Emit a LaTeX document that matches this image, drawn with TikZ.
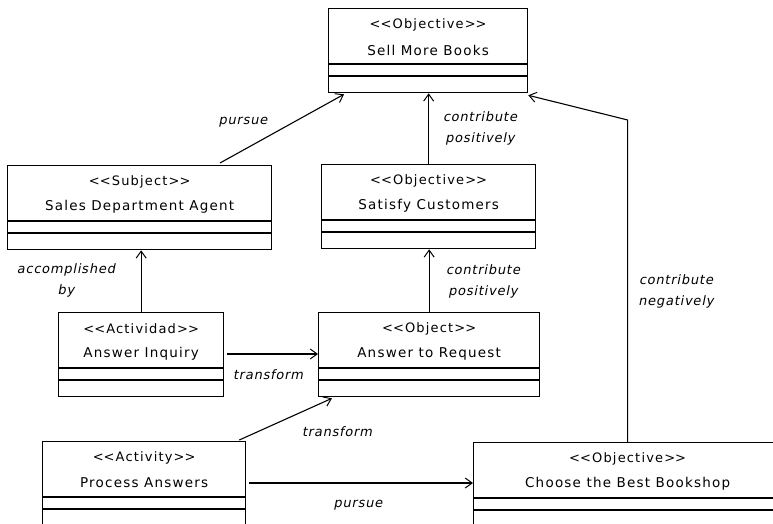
\documentclass[tikz,border=0pt]{standalone}
\usepackage{fontspec}
\usetikzlibrary{arrows.meta,calc}
\newfontfamily\umlfont{DejaVu Sans}[LetterSpace=9]
\newfontfamily\umlitfont{DejaVu Sans}[FakeSlant=0.2,LetterSpace=6]

\tikzset{
  classbox/.style={draw=black, line width=1.3pt, fill=white, rectangle,
    inner sep=0pt, minimum height=84pt, anchor=north west},
  boxline/.style={line width=1.3pt},
  stereo/.style={font=\umlfont\fontsize{13}{15}\selectfont, inner sep=0pt},
  cname/.style={font=\umlfont\fontsize{13.5}{15}\selectfont, inner sep=0pt},
  rel/.style={line width=1.1pt, -{Straight Barb[length=7pt,width=10pt,line width=1pt]}},
  rlabel/.style={font=\umlitfont\fontsize{13}{21}\selectfont, inner sep=0pt, align=center}
}

% class box: name, x, y, width, stereotype, title
\newcommand{\umlclass}[6]{%
  \node[classbox, minimum width=#4pt] (#1) at (#2,#3) {};
  \node[stereo] (#1-st) at ($(#1.north)+(0,17)$) {<\kern0pt<#5>\kern0pt>};
  \node[cname] (#1-nm) at ($(#1.north)+(0,42)$) {#6};
  \draw[boxline] ($(#1.north west)+(0,56)$) -- ($(#1.north east)+(0,56)$);
  \draw[boxline] ($(#1.north west)+(0,68)$) -- ($(#1.north east)+(0,68)$);
}

\begin{document}
\begin{tikzpicture}[x=1pt, y=-1pt]
  \useasboundingbox (0,0) rectangle (773,524);
  \clip (0,0) rectangle (773,524);
  \fill[white] (0,0) rectangle (773,524);

  \umlclass{smb}{328}{8}{199}{Objective}{Sell More Books}
  \umlclass{sda}{7}{165}{264}{Subject}{Sales Department Agent}
  \umlclass{sc}{321}{164}{214}{Objective}{Satisfy Customers}
  \umlclass{ai}{58}{312}{165}{Actividad}{Answer Inquiry}
  \umlclass{atr}{318}{312}{221}{Object}{Answer to Request}
  \umlclass{pa}{42}{441}{203}{Activity}{Process Answers}
  \umlclass{cbb}{473}{442}{308}{Objective}{Choose the Best Bookshop}

  \coordinate (bend) at ($(cbb.north)+(0,-322)$);

  % relationships
  \draw[rel] ($(sda.north west)+(213,-2)$) -- ($(smb.south west)+(16,1)$);
  \draw[rel] (sc.north) -- (sc.north |- smb.south);
  \draw[rel] (atr.north) -- (atr.north |- sc.south);
  \draw[rel] (ai.north) -- (ai.north |- sda.south);
  \draw[rel] ($(ai.north east |- ai-nm)+(3,0)$) -- (atr.west |- ai-nm);
  \draw[rel] ($(pa.north east)+(-7,-1)$) -- ($(atr.south west)+(14,1)$);
  \draw[rel] ($(pa.north east |- pa-nm)+(3,0)$) -- (cbb.west |- pa-nm);
  \draw[rel] (cbb.north) -- (bend) -- ($(smb.south east)+(0,2)$);

  % relationship labels
  \node[rlabel] (l1) at (243,122) {pursue};
  \node[rlabel] (l2) at (480,128) {contribute\\positively};
  \node[rlabel] (l3) at (66,280) {accomplished\\by};
  \node[rlabel] (l4) at (483,281) {contribute\\positively};
  \node[rlabel] (l5) at (268,375) {transform};
  \node[rlabel] (l6) at (337,432) {transform};
  \node[rlabel] (l7) at (358,505) {pursue};
  \node[rlabel] (l8) at (676,291) {contribute\\negatively};
\end{tikzpicture}
\end{document}
